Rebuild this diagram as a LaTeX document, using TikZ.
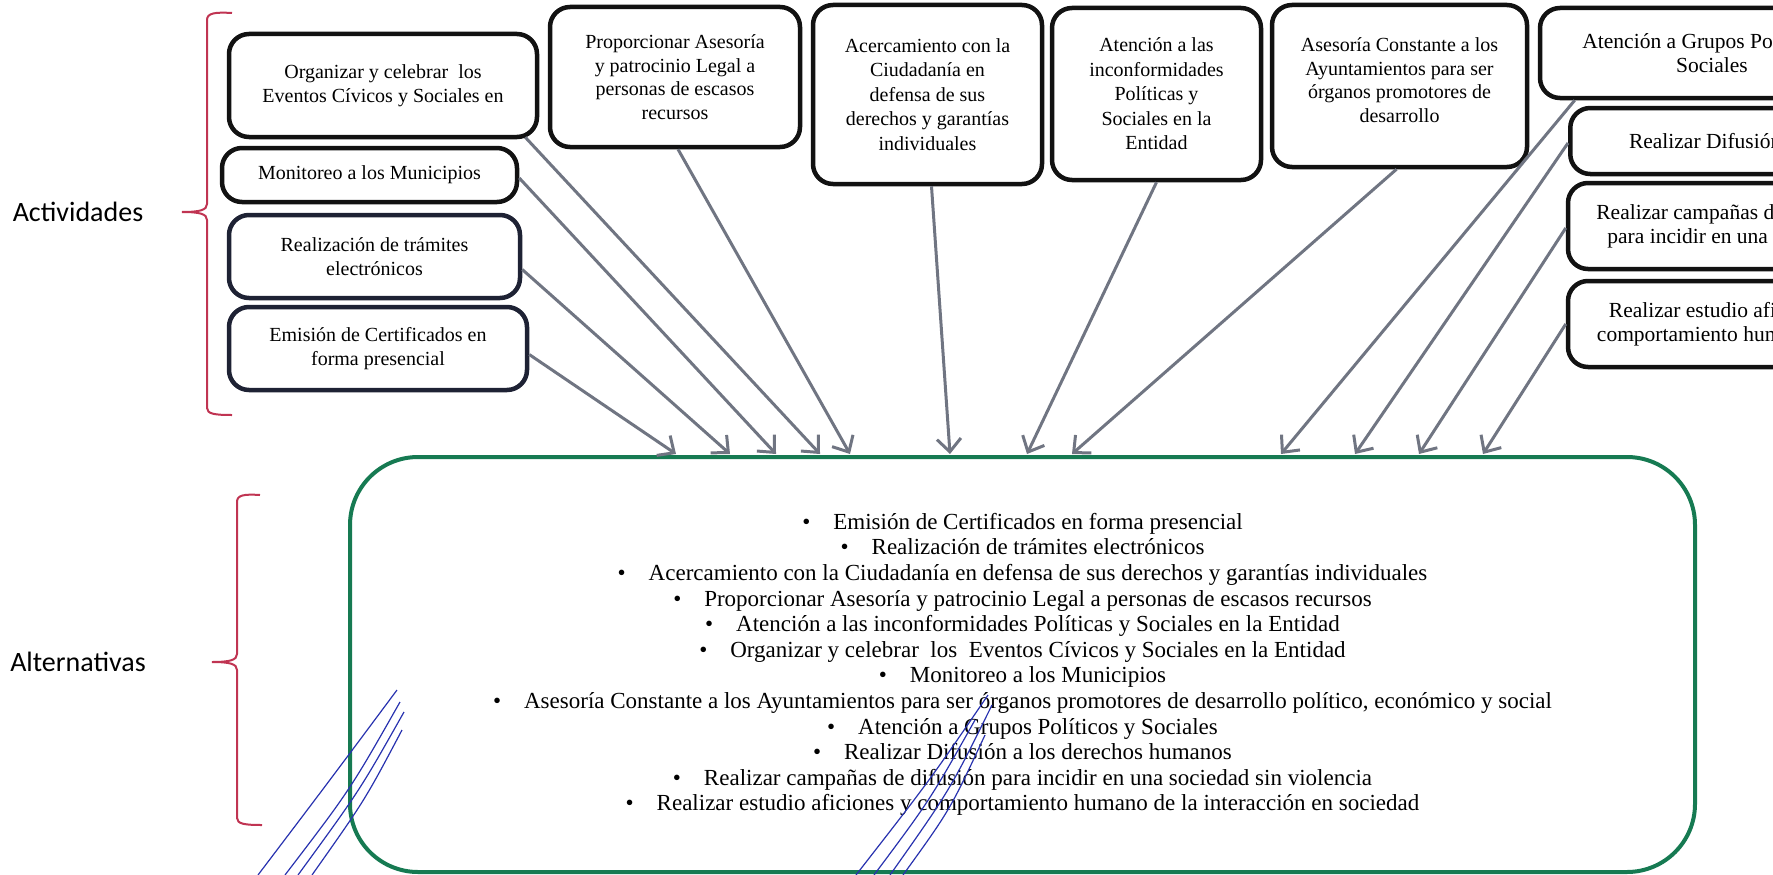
\documentclass[tikz,border=0pt]{standalone}
\usepackage{fontspec}
\setmainfont{Liberation Serif}
\newfontfamily\calib{Carlito}
\usetikzlibrary{arrows.meta}
\definecolor{boxline}{RGB}{18,18,18}
\definecolor{navyline}{RGB}{30,34,52}
\definecolor{connc}{RGB}{112,117,130}
\definecolor{grn}{RGB}{22,122,82}
\definecolor{brc}{RGB}{192,52,82}
\definecolor{pen}{RGB}{40,50,175}
\begin{document}
\begin{tikzpicture}[x=1pt,y=-1pt,
 actbox/.style={draw=boxline, line width=4.5pt, rounded corners=20pt, align=center, inner sep=0pt, font=\fontsize{20}{23.5}\selectfont},
 sidebox/.style={actbox, font=\fontsize{21.5}{24}\selectfont},
 link/.style={draw=connc, line width=3pt, -{Straight Barb[length=13pt,width=24pt]}},
 bracepath/.style={draw=brc, line width=2pt},
 lbl/.style={font=\calib\fontsize{28}{32}\selectfont},
 scrib/.style={draw=pen, line width=1.2pt}]
\useasboundingbox (0,0) rectangle (1773,875);
\clip (0,0) rectangle (1773,875);

% labels and braces
\node[lbl] (lact) at (78,212) {Actividades};
\node[lbl] (lalt) at (78,662) {Alternativas};
\draw[bracepath] (232,13) .. controls (215,12) and (207,13) .. (207,20) -- (207,204)
  .. controls (207,210) and (200,212) .. (182,212) .. controls (200,212) and (207,214) .. (207,220)
  -- (207,408) .. controls (207,414) and (215,415) .. (232,415);
\draw[bracepath] (260,495) .. controls (244,494) and (237,495) .. (237,502) -- (237,654)
  .. controls (237,660) and (230,662) .. (212,662) .. controls (230,662) and (237,664) .. (237,670)
  -- (237,818) .. controls (237,824) and (245,825) .. (262,825);

% activity boxes
\node[actbox, minimum width=308pt, minimum height=103pt] (b1) at (383,85.5) {Organizar y celebrar\ \ los\\Eventos Cívicos y Sociales en};
\node[actbox, minimum width=295pt, minimum height=54pt] (b2) at (369.5,175) {Monitoreo a los Municipios};
\node[actbox, draw=navyline, minimum width=291pt, minimum height=83pt] (b3) at (374.5,256.5) {Realización de trámites\\electrónicos};
\node[actbox, draw=navyline, minimum width=298pt, minimum height=83pt] (b4) at (378,348.5) {Emisión de Certificados en\\forma presencial};
\node[actbox, minimum width=250pt, minimum height=140pt] (b5) at (675,77) {Proporcionar Asesoría\\y patrocinio Legal a\\personas de escasos\\recursos};
\node[actbox, minimum width=229pt, minimum height=179pt, font=\fontsize{20}{24.5}\selectfont] (b6) at (927.5,94.5) {Acercamiento con la\\Ciudadanía en\\defensa de sus\\derechos y garantías\\individuales};
\node[actbox, minimum width=209pt, minimum height=172pt, font=\fontsize{20}{24.5}\selectfont] (b7) at (1156.5,94) {Atención a las\\inconformidades\\Políticas y\\Sociales en la\\Entidad};
\node[actbox, minimum width=255pt, minimum height=162pt] (b8) at (1399.5,86) {Asesoría Constante a los\\Ayuntamientos para ser\\órganos promotores de\\desarrollo\\[-11.5pt]};
\node[sidebox, minimum width=344pt, minimum height=90pt] (b9) at (1712,53) {Atención a Grupos Políticos y\\Sociales};
\node[sidebox, anchor=west, minimum width=480pt, minimum height=66pt] (b10) at (1568,141) {Realizar Difusión a los derechos humanos};
\node[sidebox, minimum width=320pt, minimum height=86pt] (b11) at (1728,226) {Realizar campañas de difusión\\para incidir en una sociedad};
\node[sidebox, minimum width=320pt, minimum height=86pt] (b12) at (1728,324) {Realizar estudio aficiones y\\comportamiento humano de la};

% alternatives box
\node[draw=grn, line width=4pt, rounded corners=68pt, minimum width=1345pt, minimum height=415pt,
  align=center, inner sep=0pt, font=\fontsize{23}{25.6}\selectfont] (alt) at (1022.5,664.5)
 {•\hspace{23pt}Emisión de Certificados en forma presencial\\
  •\hspace{23pt}Realización de trámites electrónicos\\
  •\hspace{23pt}Acercamiento con la Ciudadanía en defensa de sus derechos y garantías individuales\\
  •\hspace{23pt}Proporcionar Asesoría y patrocinio Legal a personas de escasos recursos\\
  •\hspace{23pt}Atención a las inconformidades Políticas y Sociales en la Entidad\\
  •\hspace{23pt}Organizar y celebrar\ \ los\ \ Eventos Cívicos y Sociales en la Entidad\\
  •\hspace{23pt}Monitoreo a los Municipios\\
  •\hspace{23pt}Asesoría Constante a los Ayuntamientos para ser órganos promotores de desarrollo político, económico y social\\
  •\hspace{23pt}Atención a Grupos Políticos y Sociales\\
  •\hspace{23pt}Realizar Difusión a los derechos humanos\\
  •\hspace{23pt}Realizar campañas de difusión para incidir en una sociedad sin violencia\\
  •\hspace{23pt}Realizar estudio aficiones y comportamiento humano de la interacción en sociedad};

% arrow targets
\coordinate (t1) at (676,454);
\coordinate (t2) at (730,454);
\coordinate (t3) at (776,454);
\coordinate (t4) at (820,454);
\coordinate (t5) at (850,454);
\coordinate (t6) at (950,454);
\coordinate (t7) at (1027,454);
\coordinate (t8) at (1072,454);
\coordinate (t9) at (1281,454);
\coordinate (t10) at (1355,454);
\coordinate (t11) at (1419,454);
\coordinate (t12) at (1483,454);

\draw[link] ([yshift=-6pt]b4.east) -- (t1);
\draw[link] ([yshift=-13pt]b3.east) -- (t2);
\draw[link] ([yshift=-3pt]b2.east) -- (t3);
\draw[link] ([xshift=-14pt,yshift=2pt]b1.south east) -- (t4);
\draw[link] ([xshift=3pt]b5.south) -- (t5);
\draw[link] ([xshift=4pt]b6.south) -- (t6);
\draw[link] (b7.south) -- (t7);
\draw[link] ([xshift=-3pt]b8.south) -- (t8);
\draw[link] ([xshift=37pt]b9.south west) -- (t9);
\draw[link] ([yshift=-2pt]b10.west) -- (t10);
\draw[link] ([yshift=-2pt]b11.west) -- (t11);
\draw[link] (b12.west) -- (t12);

% pen scribbles
\draw[scrib] (258,875) .. controls (330,780) .. (397,690);
\draw[scrib] (285,875) .. controls (350,790) .. (400,702);
\draw[scrib] (298,875) .. controls (360,790) .. (404,712);
\draw[scrib] (312,875) .. controls (365,800) .. (402,730);
\draw[scrib] (856,875) .. controls (930,780) .. (988,695);
\draw[scrib] (874,875) .. controls (930,800) .. (975,720);
\draw[scrib] (890,875) .. controls (950,790) .. (992,705);
\draw[scrib] (903,875) .. controls (950,810) .. (985,735);
\end{tikzpicture}
\end{document}
